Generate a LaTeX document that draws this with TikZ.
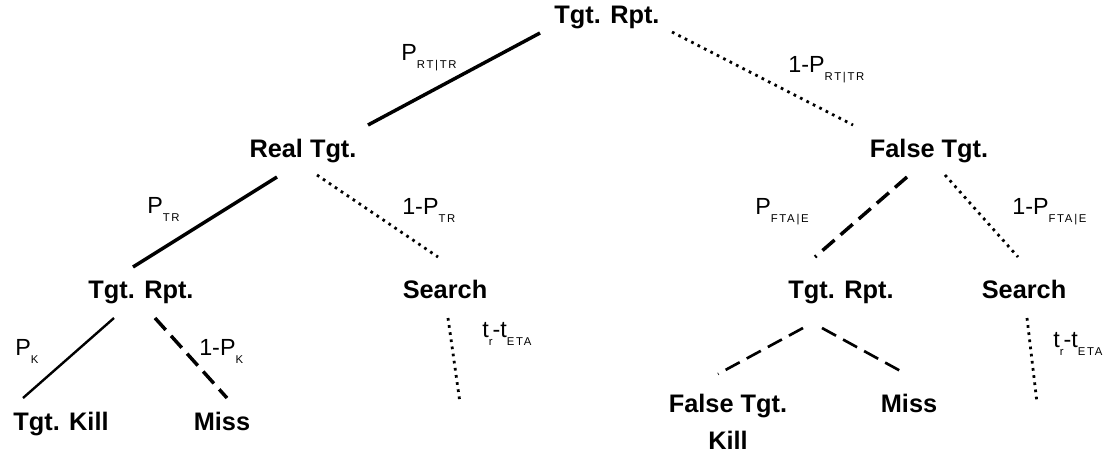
\documentclass[tikz,border=0pt]{standalone}
\usepackage{fontspec}
\setmainfont{Liberation Sans}
\newcommand{\lsub}[1]{\raisebox{-6pt}{\fontsize{8.5}{9}\selectfont\addfontfeatures{LetterSpace=15}#1}}
\begin{document}
\begin{tikzpicture}[x=0.75pt,y=-0.75pt,
  lbl/.style={font=\fontsize{19}{22}\selectfont\bfseries, inner sep=0pt, anchor=base},
  prob/.style={font=\fontsize{17.5}{20}\selectfont, inner sep=0pt, anchor=base west},
  solidthick/.style={line width=2.6pt},
  solidthin/.style={line width=1.8pt},
  dashthick/.style={line width=2.6pt, dash pattern=on 12pt off 6pt},
  dashthin/.style={line width=2pt, dash pattern=on 12pt off 6pt},
  dotline/.style={line width=2.1pt, dash pattern=on 2pt off 3.4pt},
]
\useasboundingbox (0,0) rectangle (1112,457);

% nodes
\node[lbl] (root)  at (607,23)  {Tgt. Rpt.};
\node[lbl] (real)  at (303,157) {Real Tgt.};
\node[lbl] (false) at (929,157) {False Tgt.};
\node[lbl] (rptL)  at (141,298) {Tgt. Rpt.};
\node[lbl] (srchL) at (445,298) {Search};
\node[lbl] (rptR)  at (841,298) {Tgt. Rpt.};
\node[lbl] (srchR) at (1024,298) {Search};
\node[lbl] (kill)  at (61,430)  {Tgt. Kill};
\node[lbl] (missL) at (222,430) {Miss};
\node[lbl] (fkill) at (728,412) {False Tgt.};
\node[lbl] (fkill2) at (728,449) {Kill};
\node[lbl] (missR) at (909,412) {Miss};

% connector end points
\coordinate (rootSW) at (540,33);
\coordinate (rootSE) at (672,32);
\coordinate (realNE) at (368,125);
\coordinate (falseNW) at (853,125);
\coordinate (realSW) at (277,177);
\coordinate (realSE) at (317,175);
\coordinate (rptLN) at (133,267);
\coordinate (srchLN) at (438,257);
\coordinate (rptLSW) at (114,318);
\coordinate (rptLSE) at (155,318);
\coordinate (killN) at (23,398);
\coordinate (missLN) at (227,398);
\coordinate (srchLS) at (448,318);
\coordinate (srchLend) at (460,403);
\coordinate (falseSW) at (907,177);
\coordinate (falseSE) at (945,175);
\coordinate (rptRN) at (815,257);
\coordinate (srchRN) at (1018,257);
\coordinate (rptRSW) at (803,328);
\coordinate (rptRSE) at (822,328);
\coordinate (fkillN) at (718,374);
\coordinate (missRN) at (906,374);
\coordinate (srchRS) at (1027,318);
\coordinate (srchRend) at (1037,403);

% connectors
\draw[solidthick] (rootSW) -- (realNE);
\draw[dotline] (rootSE) -- (falseNW);
\draw[solidthick] (realSW) -- (rptLN);
\draw[dotline] (realSE) -- (srchLN);
\draw[solidthin] (rptLSW) -- (killN);
\draw[dashthick] (rptLSE) -- (missLN);
\draw[dotline] (srchLS) -- (srchLend);
\draw[dashthick] (falseSW) -- (rptRN);
\draw[dotline] (falseSE) -- (srchRN);
\draw[dashthin] (rptRSW) -- (fkillN);
\draw[dashthin] (rptRSE) -- (missRN);
\draw[dotline] (srchRS) -- (srchRend);

% probability labels
\node[prob] (p1)  at (401,60)  {P\lsub{RT|TR}};
\node[prob] (p2)  at (788,72)  {1-P\lsub{RT|TR}};
\node[prob] (p3)  at (147,213) {P\lsub{TR}};
\node[prob] (p4)  at (402,214) {1-P\lsub{TR}};
\node[prob] (p5)  at (15,355)  {P\lsub{K}};
\node[prob] (p6)  at (199,355) {1-P\lsub{K}};
\node[prob] (p7)  at (755,214) {P\lsub{FTA|E}};
\node[prob] (p8)  at (1012,214) {1-P\lsub{FTA|E}};
\node[prob] (t1)  at (482,337) {t\lsub{r}-t\lsub{ETA}};
\node[prob] (t2)  at (1053,347) {t\lsub{r}-t\lsub{ETA}};
\end{tikzpicture}
\end{document}
